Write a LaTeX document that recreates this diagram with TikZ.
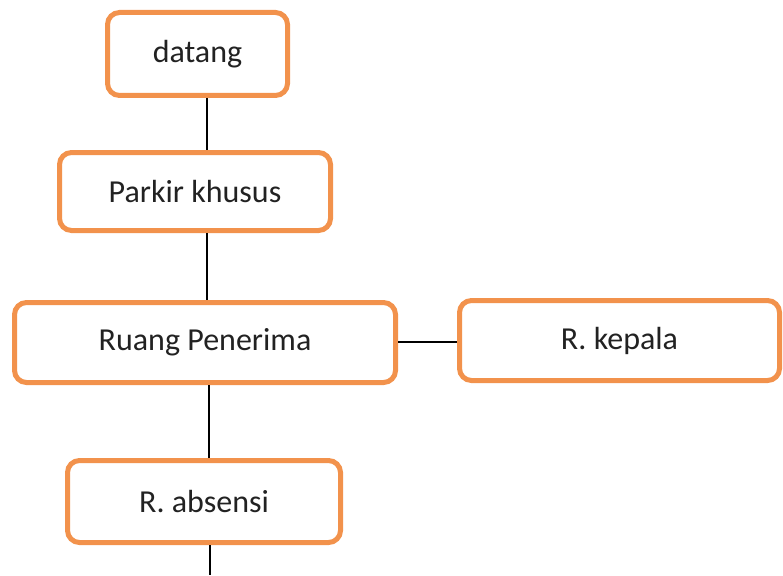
\documentclass[tikz,border=0pt]{standalone}
\usepackage{fontspec}
\setmainfont{Carlito}
\definecolor{boxorange}{HTML}{F2924C}
\definecolor{textgray}{HTML}{222222}
\begin{document}
\begin{tikzpicture}[x=1pt,y=-1pt,
  room/.style={draw=boxorange, line width=5pt, rounded corners=12pt, fill=white,
    inner sep=0pt, text=textgray, font=\fontsize{32}{36}\selectfont},
  link/.style={draw=black, line width=1.8pt}]
  \useasboundingbox (0,0) rectangle (783,575);

  \node[room, minimum width=180pt, minimum height=83pt] (datang) at (197.5,54) {datang};
  \node[room, minimum width=271pt, minimum height=78pt] (parkir) at (195,191.5) {Parkir khusus};
  \node[room, minimum width=381pt, minimum height=80pt] (penerima) at (205,342.5) {Ruang Penerima};
  \node[room, minimum width=320pt, minimum height=80pt] (kepala) at (619.5,340.5) {R. kepala};
  \node[room, minimum width=273pt, minimum height=82pt] (absensi) at (204,501.5) {R. absensi};

  % vertical trunk positions
  \coordinate (trunkA) at (207,0);
  \coordinate (trunkB) at (209,0);
  \coordinate (exit) at (210,575);
  \coordinate (side) at (0,342);

  \draw[link] (datang.south -| trunkA) -- (parkir.north -| trunkA);
  \draw[link] (parkir.south -| trunkA) -- (penerima.north -| trunkA);
  \draw[link] (penerima.south -| trunkB) -- (absensi.north -| trunkB);
  \draw[link] (penerima.east |- side) -- (kepala.west |- side);
  \draw[link] (absensi.south -| exit) -- (exit);
\end{tikzpicture}
\end{document}
